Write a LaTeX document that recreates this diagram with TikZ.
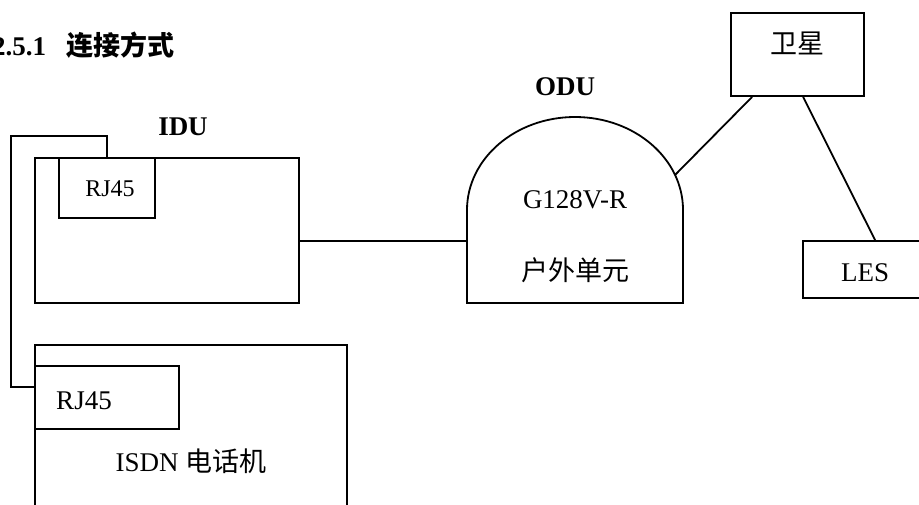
\documentclass[tikz,border=0pt]{standalone}
\usepackage{fontspec}
\setmainfont{Liberation Serif}
\newfontfamily\cjk{Noto Sans CJK SC}
\usetikzlibrary{calc}
\tikzset{
  box/.style={draw, inner sep=0pt},
  lbl/.style={inner sep=0pt, font=\fontsize{13.5}{16}\selectfont},
}
\begin{document}
\begin{tikzpicture}[x=0.5pt,y=-0.5pt,line width=0.9pt]
\useasboundingbox (0,0) rectangle (919,504);
\clip (0,0) rectangle (919,504);
\node [lbl,anchor=east](title) at(175,45) {\bfseries 2.5.1\hspace{10pt}{\cjk 连接方式}};
% indoor unit
\node [box,minimum width=132pt,minimum height=72.5pt](idu) at(167,230.5) {};
\node [box,minimum width=48pt,minimum height=30pt](rjA) at(107,188) {};
\node [lbl,font=\fontsize{12}{14}\selectfont](rjAtxt) at(110,189) {RJ45};
\node [lbl,font=\bfseries\fontsize{13.5}{16}\selectfont](idulbl) at(183,127) {IDU};
% phone
\node [box,minimum width=156pt,minimum height=92.5pt](tel) at(191,437.5) {};
\node [box,minimum width=72pt,minimum height=31.5pt](rjB) at(107,397.5) {};
\node [lbl](rjBtxt) at(84,401) {RJ45};
\node [lbl](teltxt) at(191,461) {ISDN {\cjk 电话机}};
% outdoor unit
\draw (467,303) -- (467,210) arc[start angle=180,end angle=0,x radius=54pt,y radius=46.5pt] -- (683,303) -- cycle;
\coordinate (odu-w) at (467,241);
\coordinate (odu-ne) at (675,175);
\node [lbl,font=\bfseries\fontsize{13.5}{16}\selectfont](odulbl) at(565,87) {ODU};
\node [lbl](odutxt) at(575,200) {G128V-R};
\node [lbl](oducn) at(575,270) {\cjk 户外单元};
% satellite and LES
\node [box,minimum width=66.5pt,minimum height=41.5pt](sat) at(797.5,54.5) {};
\node [lbl](sattxt) at(797,43) {\cjk 卫星};
\node [box,minimum width=78.5pt,minimum height=28.5pt](les) at(881.5,269.5) {};
\node [lbl](lestxt) at(865,273) {LES};
% links
\draw (idu.east |- odu-w) -- (odu-w);
\coordinate (bend) at (11,387);
\draw (rjA.north) -- ++(0,-21) -| (bend) -- (rjB.west |- bend);
\draw ($(sat.south west)+(22,0)$) -- (odu-ne);
\draw ($(sat.south west)+(73,0)$) -- ($(les.north west)+(73,0)$);
\end{tikzpicture}
\end{document}
